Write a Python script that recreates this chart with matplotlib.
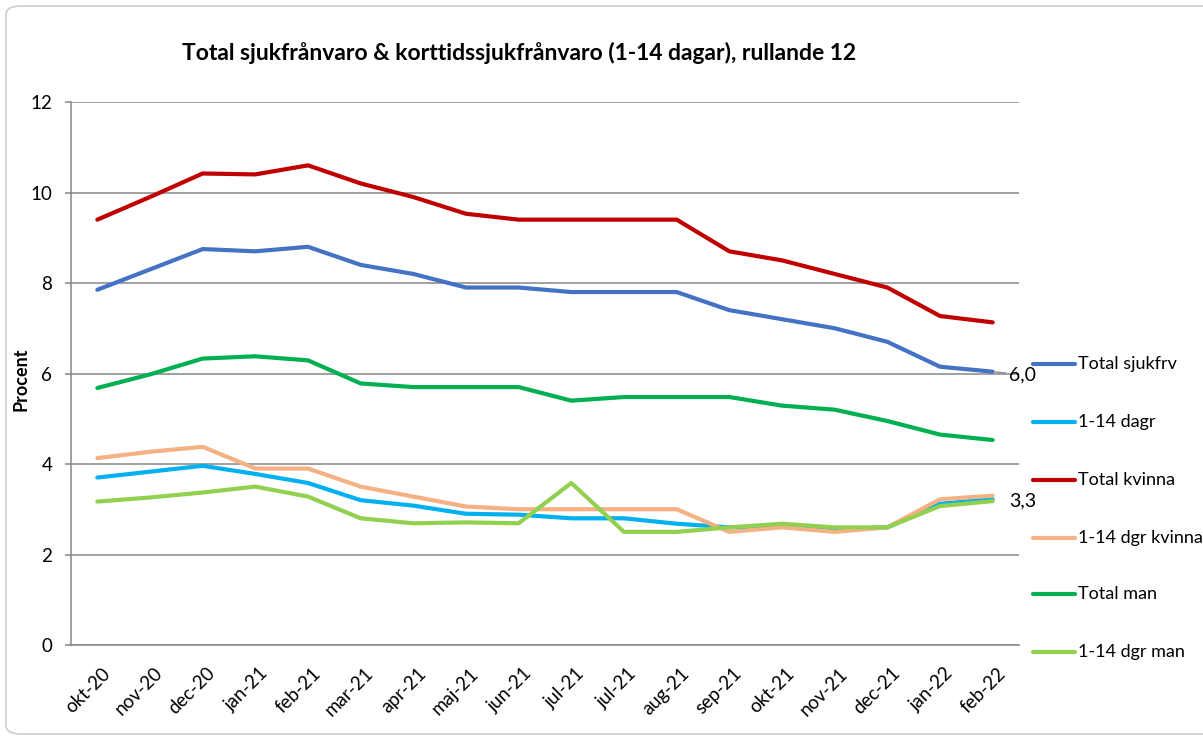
import matplotlib
matplotlib.use('Agg')
import matplotlib.pyplot as plt
import matplotlib.transforms as mtransforms
from matplotlib.patches import FancyBboxPatch
from matplotlib.lines import Line2D

plt.rcParams['font.family'] = ['Lato', 'DejaVu Sans']

months = ['okt-20', 'nov-20', 'dec-20', 'jan-21', 'feb-21', 'mar-21', 'apr-21', 'maj-21', 'jun-21',
          'jul-21', 'jul-21', 'aug-21', 'sep-21', 'okt-21', 'nov-21', 'dec-21', 'jan-22', 'feb-22']

total_sjukfrv = [7.85, 8.3, 8.75, 8.7, 8.8, 8.4, 8.2, 7.9, 7.9, 7.8, 7.8, 7.8, 7.4, 7.2, 7.0, 6.7, 6.15, 6.04]
dagr_1_14 = [3.7, 3.83, 3.96, 3.78, 3.58, 3.2, 3.08, 2.9, 2.88, 2.8, 2.8, 2.68, 2.6, 2.62, 2.55, 2.6, 3.12, 3.22]
total_kvinna = [9.4, 9.9, 10.42, 10.4, 10.6, 10.2, 9.9, 9.53, 9.4, 9.4, 9.4, 9.4, 8.7, 8.5, 8.2, 7.9, 7.27, 7.13]
dgr_kvinna = [4.13, 4.27, 4.38, 3.9, 3.9, 3.5, 3.28, 3.06, 3.0, 3.0, 3.0, 3.0, 2.5, 2.6, 2.5, 2.6, 3.22, 3.3]
total_man = [5.68, 5.98, 6.33, 6.38, 6.29, 5.78, 5.7, 5.7, 5.7, 5.4, 5.48, 5.48, 5.48, 5.29, 5.2, 4.95, 4.65, 4.53]
dgr_man = [3.17, 3.26, 3.37, 3.5, 3.28, 2.8, 2.69, 2.71, 2.69, 3.58, 2.5, 2.5, 2.6, 2.68, 2.6, 2.6, 3.07, 3.18]

series = [
    ('Total sjukfrv', total_sjukfrv, '#4472C4'),
    ('1-14 dagr', dagr_1_14, '#00B0F0'),
    ('Total kvinna', total_kvinna, '#C00000'),
    ('1-14 dgr kvinna', dgr_kvinna, '#F4B183'),
    ('Total man', total_man, '#00B050'),
    ('1-14 dgr man', dgr_man, '#92D050'),
]

W, H = 1203, 738
fig = plt.figure(figsize=(W / 100, H / 100), dpi=100)

# rounded chart border (right side runs off the image)
border = FancyBboxPatch((6 / W, 1 - 734 / H), 1250 / W, (734 - 6) / H,
                        boxstyle='round,pad=0,rounding_size=0.012',
                        transform=fig.transFigure, fill=False, ec='#D0D0D0', lw=1.3, clip_on=False)
fig.patches.append(border)

ax = fig.add_axes([71 / W, 1 - 645 / H, (1019 - 71) / W, (645 - 102) / H])
x = list(range(len(months)))
for name, vals, col in series:
    ax.plot(x, vals, color=col, lw=3, solid_capstyle='round', solid_joinstyle='round', label=name, zorder=3)

ax.set_xlim(-0.5, len(months) - 0.5)
ax.set_ylim(0, 12)
ax.set_yticks(range(0, 13, 2))
ax.grid(axis='y', color='#868686', lw=1.1, zorder=1)
for s in ['top', 'right']:
    ax.spines[s].set_visible(False)
ax.spines['left'].set_color('#868686')
ax.spines['bottom'].set_color('#868686')
ax.spines['left'].set_linewidth(1.1)
ax.spines['bottom'].set_linewidth(1.1)
ax.tick_params(axis='y', length=4.5, color='#868686', width=1.1, labelsize=13.5, pad=9)
ax.tick_params(axis='x', length=0, labelsize=13.5, pad=14)
ax.set_xticks(x)
ax.set_xticklabels(months, rotation=45, ha='right', va='top', rotation_mode='anchor')
offset = mtransforms.ScaledTranslation(4 / 100, 0, fig.dpi_scale_trans)
for lab in ax.get_xticklabels():
    lab.set_transform(lab.get_transform() + offset)

ax.set_ylabel('Procent', fontsize=13, fontweight='bold')
ax.yaxis.set_label_coords((30 - 71) / 948, 0.49)

fig.text(519 / W, 1 - 53 / H, 'Total sjukfrånvaro & korttidssjukfrånvaro (1-14 dagar), rullande 12',
         ha='center', va='center', fontsize=16.5, fontweight='bold')

# data labels at last point
ax.annotate('6,0', xy=(x[-1], total_sjukfrv[-1]), xytext=(16, -3), textcoords='offset pixels',
            fontsize=14, va='center', ha='left',
            arrowprops=dict(arrowstyle='-', color='#868686', lw=1, shrinkA=0, shrinkB=2))
ax.annotate('3,3', xy=(x[-1], dgr_kvinna[-1]), xytext=(16, -5), textcoords='offset pixels',
            fontsize=14, va='center', ha='left', clip_on=False)

# legend on the right
leg_y = [364, 422, 480, 538, 594, 652]
for (name, vals, col), py in zip(series, leg_y):
    fig.add_artist(Line2D([1033 / W, 1075 / W], [1 - py / H, 1 - py / H], color=col, lw=3,
                          solid_capstyle='round', transform=fig.transFigure))
    fig.text(1078 / W, 1 - py / H, name, fontsize=13, va='center', ha='left')

fig.savefig('out.png', dpi=100)
